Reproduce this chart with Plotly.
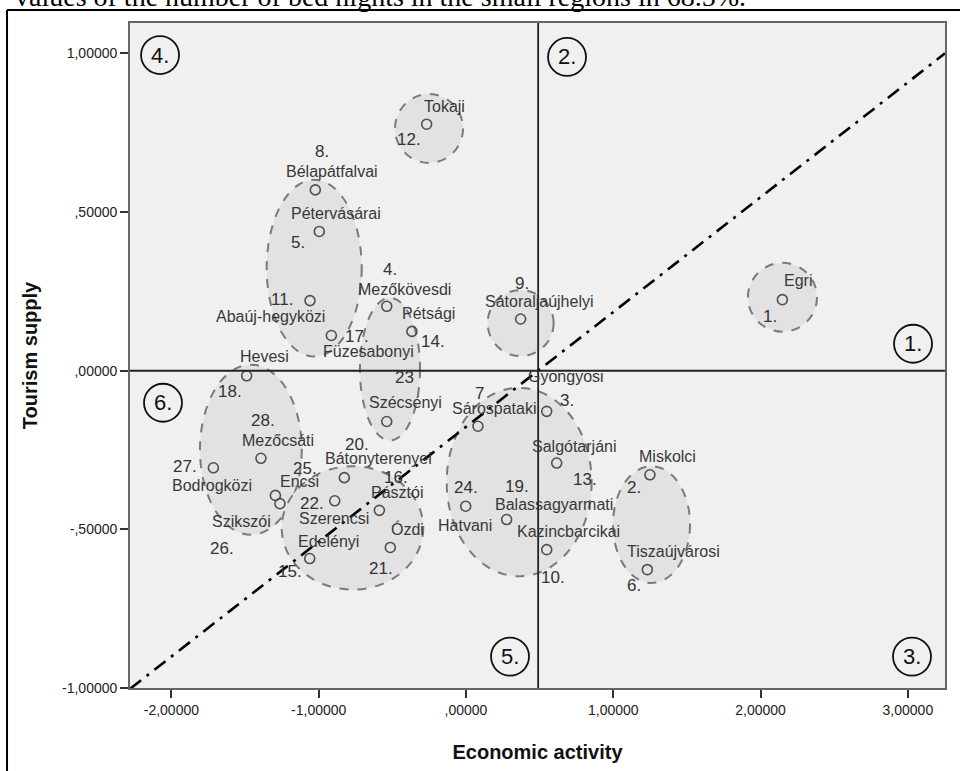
import plotly.graph_objects as go

# ---------------- data ----------------
region_no = ["1.", "2.", "3.", "4.", "5.", "6.", "7", "8.", "9.", "10.", "11.", "12.", "13.", "14.",
             "15.", "16.", "17.", "18.", "19.", "20.", "21.", "22.", "23", "24.", "25.", "26.", "27.", "28."]
region_name = ["Egri", "Miskolci", "Gyöngyösi", "Mezőkövesdi", "Pétervásárai", "Tiszaújvárosi",
               "Sárospataki", "Bélapátfalvai", "Sátoraljaújhelyi", "Kazincbarcikai", "Abaúj-hegyközi",
               "Tokaji", "Salgótarjáni", "Pétsági", "Edelényi", "Pásztói", "Füzesabonyi", "Hevesi",
               "Balassagyarmati", "Bátonyterenyei", "Ózdi", "Szerencsi", "Szécsényi", "Hatvani",
               "Encsi", "Szikszói", "Bodrogközi", "Mezőcsáti"]
economic_activity = [2.148, 1.249, 0.548, -0.538, -0.996, 1.231, 0.081, -1.023, 0.371, 0.548, -1.059,
                     -0.267, 0.616, -0.367, -1.061, -0.588, -0.914, -1.489, 0.276, -0.826, -0.514,
                     -0.891, -0.538, -0.002, -1.294, -1.263, -1.715, -1.392]
tourism_supply = [0.224, -0.328, -0.128, 0.203, 0.439, -0.627, -0.175, 0.570, 0.163, -0.564, 0.221,
                  0.777, -0.291, 0.124, -0.592, -0.440, 0.111, -0.016, -0.469, -0.337, -0.557,
                  -0.410, -0.160, -0.427, -0.393, -0.419, -0.306, -0.276]

x_tickvals = [-2, -1, 0, 1, 2, 3]
x_ticktext = ["-2,00000", "-1,00000", ",00000", "1,00000", "2,00000", "3,00000"]
y_tickvals = [-1, -0.5, 0, 0.5, 1]
y_ticktext = ["-1,00000", "-,50000", ",00000", ",50000", "1,00000"]

quadrant_text = ["1.", "2.", "3.", "4.", "5.", "6."]

# reference lines
x_split = 0.49
y_split = 0.0
diag_intercept = -0.177
diag_slope = 0.362

# ---------------- layout helpers (positions / styles) ----------------
X_RANGE = [-2.281, 3.252]
Y_RANGE = [-1.0, 1.096]

# pixel offsets of labels relative to their point (dx right, dy down)
name_off = [(16, -19), (18, -18), (19, -35), (18, -17), (17, -18), (26, -18), (17, -18), (17, -18),
            (19, -18), (22, -18), (-40, 16), (18, -18), (18, -17), (17, -18), (19, -17), (18, -18),
            (37, 16), (18, -19), (47, -15), (34, -19), (17, -18), (-1, 18), (19, -19), (-1, 19),
            (24, -14), (-38, 18), (-1, 18), (17, -18)]
num_off = [(-12, 17), (-16, 13), (20, -11), (3, -37), (-21, 11), (-13, 16), (2, -33), (7, -38),
           (1, -36), (6, 28), (-28, -1), (-18, 15), (28, 16), (21, 10), (-20, 13), (17, -33),
           (26, 1), (-17, 16), (10, -33), (13, -33), (-9, 21), (-23, 3), (18, -44), (0, -19),
           (30, -27), (-58, 45), (-28, -1), (2, -38)]

# ellipses (x0, x1, y0, y1) in data units
ellipses = [(-0.482, -0.020, 0.655, 0.872), (-1.353, -0.708, 0.045, 0.602),
            (-0.720, -0.312, -0.220, 0.230), (-1.806, -1.115, -0.517, 0.019),
            (-1.251, -0.290, -0.690, -0.301), (-0.131, 0.853, -0.648, -0.054),
            (0.998, 1.521, -0.669, -0.301), (1.914, 2.383, 0.123, 0.340),
            (0.147, 0.595, 0.046, 0.254)]

# quadrant label anchor positions (data units)
quad_pos = [(3.035, 0.085), (0.686, 0.989), (3.028, -0.901), (-2.077, 0.995), (0.299, -0.901),
            (-2.057, -0.101)]

fig = go.Figure()

shapes = []
for (x0, x1, y0, y1) in ellipses:
    shapes.append(dict(type="circle", xref="x", yref="y", x0=x0, x1=x1, y0=y0, y1=y1,
                       fillcolor="#e2e2e2", line=dict(color="#7a7a7a", width=2, dash="dash"),
                       layer="below"))

shapes.append(dict(type="line", xref="x", yref="paper", x0=x_split, x1=x_split, y0=0, y1=1,
                   line=dict(color="#222222", width=1.8), layer="above"))
shapes.append(dict(type="line", xref="paper", yref="y", x0=0, x1=1, y0=y_split, y1=y_split,
                   line=dict(color="#222222", width=1.8), layer="above"))

for (qx, qy) in quad_pos:
    shapes.append(dict(type="circle", xref="x", yref="y", xsizemode="pixel", ysizemode="pixel",
                       xanchor=qx, yanchor=qy, x0=-19, x1=19, y0=-19, y1=19,
                       line=dict(color="#111111", width=1.8), layer="above"))

# outer frame of the figure (left & top)
shapes.append(dict(type="line", xref="paper", yref="paper", x0=-0.1509, x1=-0.1509,
                   y0=1.0196, y1=-0.13, line=dict(color="#000000", width=2)))
shapes.append(dict(type="line", xref="paper", yref="paper", x0=-0.1509, x1=1.02,
                   y0=1.0196, y1=1.0196, line=dict(color="#000000", width=2)))

# diagonal dash-dot line
diag_x = X_RANGE
diag_y = [diag_intercept + diag_slope * v for v in diag_x]
fig.add_trace(go.Scatter(x=diag_x, y=diag_y, mode="lines",
                         line=dict(color="#000000", width=2.6, dash="14px,7px,3px,7px"),
                         hoverinfo="skip", showlegend=False))

fig.add_trace(go.Scatter(x=economic_activity, y=tourism_supply, mode="markers",
                         marker=dict(symbol="circle-open", size=10, color="#505050",
                                     line=dict(color="#505050", width=1.6)),
                         text=region_name, showlegend=False))

annotations = []
for i in range(len(region_name)):
    dx, dy = name_off[i]
    annotations.append(dict(x=economic_activity[i], y=tourism_supply[i], xref="x", yref="y",
                            text=region_name[i], showarrow=False, xshift=dx, yshift=-dy,
                            font=dict(family="Liberation Sans, Arial", size=16, color="#383838")))
    dx, dy = num_off[i]
    annotations.append(dict(x=economic_activity[i], y=tourism_supply[i], xref="x", yref="y",
                            text=region_no[i], showarrow=False, xshift=dx, yshift=-dy,
                            font=dict(family="Liberation Sans, Arial", size=17, color="#333333")))

for t, (qx, qy) in zip(quadrant_text, quad_pos):
    annotations.append(dict(x=qx, y=qy, xref="x", yref="y", text=t, showarrow=False,
                            font=dict(family="Liberation Sans, Arial", size=22, color="#111111")))

annotations.append(dict(x=-0.1435, y=1.040, xref="paper", yref="paper", xanchor="left",
                        yanchor="middle", showarrow=False,
                        text="values of the number of bed nights in the small regions in 68.5%.",
                        font=dict(family="Liberation Serif, Times New Roman", size=28,
                                  color="#000000")))

fig.update_layout(
    width=960, height=771,
    margin=dict(l=130, r=15, t=23, b=83),
    paper_bgcolor="#ffffff", plot_bgcolor="#f0f0f0",
    shapes=shapes, annotations=annotations,
    font=dict(family="Liberation Sans, Arial", color="#222222"),
    xaxis=dict(range=X_RANGE, tickvals=x_tickvals, ticktext=x_ticktext, showgrid=False,
               zeroline=False, showline=True, mirror=True, linecolor="#666666", linewidth=1.8,
               ticks="outside", ticklen=8, tickwidth=1.6, tickcolor="#333333",
               tickfont=dict(size=14, color="#222222"),
               title=dict(text="<b>Economic activity</b>", font=dict(size=20, color="#111111"),
                          standoff=28)),
    yaxis=dict(range=Y_RANGE, tickvals=y_tickvals, ticktext=y_ticktext, showgrid=False,
               zeroline=False, showline=True, mirror=True, linecolor="#666666", linewidth=1.8,
               ticks="outside", ticklen=8, tickwidth=1.6, tickcolor="#333333",
               tickfont=dict(size=14, color="#222222"),
               title=dict(text="<b>Tourism supply</b>", font=dict(size=20, color="#111111"),
                          standoff=19)),
)

fig.write_html("out.html", config={"displayModeBar": False},
               post_script="document.body.style.margin='0px';document.body.style.overflow='hidden';")
